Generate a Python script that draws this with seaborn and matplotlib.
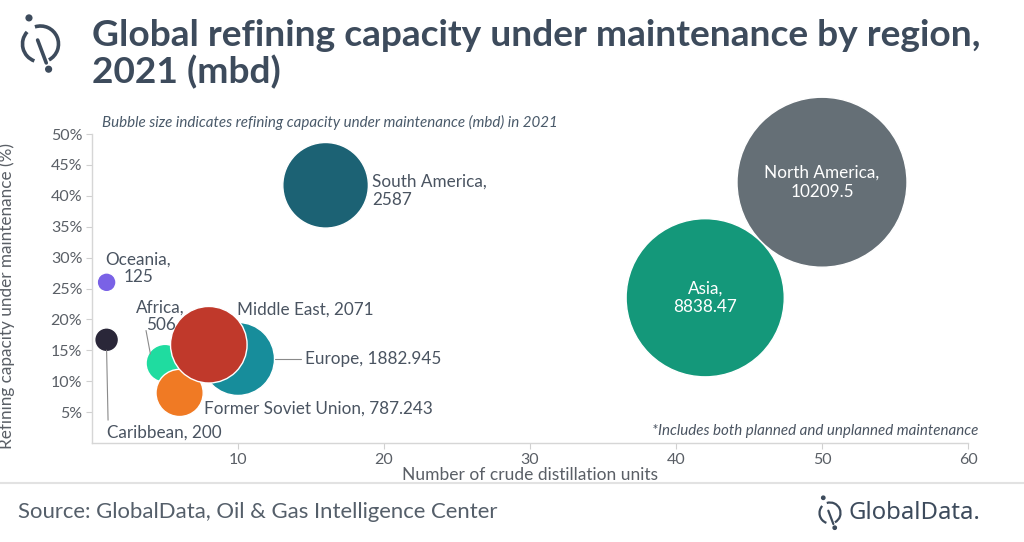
import matplotlib
matplotlib.use("Agg")
import matplotlib.pyplot as plt
from matplotlib.patches import Arc, Circle
import seaborn as sns
import pandas as pd

# ---- data ----
regions = ["Caribbean", "Oceania", "Africa", "Former Soviet Union", "Europe",
           "Middle East", "South America", "Asia", "North America"]
units = [1, 1, 5, 6, 10, 8, 16, 42, 50]
pct = [16.7, 26.0, 12.9, 8.1, 13.6, 15.9, 41.7, 23.5, 42.2]
capacity = [200, 125, 506, 787.243, 1882.945, 2071, 2587, 8838.47, 10209.5]
labels = ["Caribbean, 200", "Oceania,\n125", "Africa,\n506", "Former Soviet Union, 787.243",
          "Europe, 1882.945", "Middle East, 2071", "South America,\n2587",
          "Asia,\n8838.47", "North America,\n10209.5"]
colors = ["#2a2739", "#7a62e6", "#1fdca0", "#f07a24", "#178d9b",
          "#c0392b", "#1c6274", "#14987a", "#656f76"]
xticks = [10, 20, 30, 40, 50, 60]
yticks = [5, 10, 15, 20, 25, 30, 35, 40, 45, 50]

df = pd.DataFrame({"region": regions, "units": units, "pct": pct, "capacity": capacity})

sns.set_theme(style="white")
plt.rcParams["font.family"] = ["Lato", "DejaVu Sans"]

W, H = 1024, 542
fig = plt.figure(figsize=(W / 100, H / 100), dpi=100)
fig.patch.set_facecolor("white")
ax = fig.add_axes([92 / W, 1 - 443 / H, (968 - 92) / W, (443 - 134) / H])

smax = (170 * 0.72) ** 2
sns.scatterplot(data=df, x="units", y="pct", hue="region", palette=dict(zip(regions, colors)),
                size="capacity", sizes=(0, smax), size_norm=(0, max(capacity)),
                edgecolor="white", linewidth=1, alpha=1, legend=False, ax=ax, clip_on=False)

ax.set_xlim(0, 60)
ax.set_ylim(0, 50)
ax.set_xticks(xticks)
ax.set_yticks(yticks)
ax.set_yticklabels([f"{v}%" for v in yticks])
tc = "#5a5f66"
ax.tick_params(axis="both", labelsize=11.5, colors="#d0d0d0", labelcolor=tc, length=4,
               width=0.8, direction="out", left=True, bottom=True, pad=3)
for s in ["top", "right"]:
    ax.spines[s].set_visible(False)
for s in ["left", "bottom"]:
    ax.spines[s].set_color("#d6d6d6")
    ax.spines[s].set_linewidth(1)
ax.set_xlabel("Number of crude distillation units", fontsize=12.5, color=tc, labelpad=0)
ax.set_ylabel("Refining capacity under maintenance (%)", fontsize=12.3, color=tc)
ax.yaxis.set_label_coords(-0.088, 0.475)

lc = "#4a5461"
fs = 12.3
lcol = "#8a8a8a"
# labels
ax.text(19.2, 40.8, labels[6], fontsize=fs, color=lc, ha="left", va="center", linespacing=1.2)
ax.text(units[8], pct[8], labels[8], fontsize=fs, color="white", ha="center", va="center", linespacing=1.2)
ax.text(units[7], pct[7], labels[7], fontsize=fs, color="white", ha="center", va="center", linespacing=1.2)
ax.text(9.93, 21.6, labels[5], fontsize=fs, color=lc, ha="left", va="center")
ax.text(14.6, 13.6, labels[4], fontsize=fs, color=lc, ha="left", va="center")
ax.plot([12.5, 14.3], [13.6, 13.6], color=lcol, lw=0.8)
ax.text(7.7, 5.6, labels[3], fontsize=fs, color=lc, ha="left", va="center")
ax.text(4.7, 20.5, labels[2], fontsize=fs, color=lc, ha="center", va="center", linespacing=1.1)
ax.plot([3.7, 4.0], [18.2, 14.4], color=lcol, lw=0.8)
ax.text(3.18, 28.3, labels[1], fontsize=fs, color=lc, ha="center", va="center", linespacing=1.1)
ax.text(1.03, 1.6, labels[0], fontsize=fs, color=lc, ha="left", va="center")
ax.plot([1.0, 1.1], [15.0, 3.7], color=lcol, lw=0.8)

# subtitle / footnote
fig.text(102 / W, 1 - 122 / H, "Bubble size indicates refining capacity under maintenance (mbd) in 2021",
         fontsize=10.9, style="italic", color="#4a5a6a", ha="left", va="center")
fig.text(978 / W, 1 - 431 / H, "*Includes both planned and unplanned maintenance",
         fontsize=10.9, style="italic", color="#4a5461", ha="right", va="center")

# title
fig.text(92 / W, 1 - 35 / H, "Global refining capacity under maintenance by region,",
         fontsize=26.7, fontweight="bold", color="#3d4b5c", ha="left", va="center")
fig.text(92 / W, 1 - 72 / H, "2021 (mbd)",
         fontsize=26.7, fontweight="bold", color="#3d4b5c", ha="left", va="center")

# source
fig.text(18 / W, 1 - 512 / H, "Source: GlobalData, Oil & Gas Intelligence Center",
         fontsize=15.9, color="#555f6a", ha="left", va="center")

# overlay for decorations (pixel coords)
ov = fig.add_axes([0, 0, 1, 1], zorder=5)
ov.set_xlim(0, W)
ov.set_ylim(H, 0)
ov.axis("off")
ov.patch.set_alpha(0)
ov.plot([0, W], [483, 483], color="#e2e2e2", lw=1.5)

def logo(cx, cy, r, lw, col):
    # y axis inverted: positive angles run clockwise on screen
    ov.add_patch(Arc((cx, cy), 2 * r, 2 * r, theta1=-108, theta2=62, lw=lw, color=col))
    ov.add_patch(Arc((cx, cy), 2 * r, 2 * r, theta1=110, theta2=222, lw=lw, color=col))
    ov.plot([cx - 0.16 * r, cx + 0.32 * r], [cy - 0.22 * r, cy + 1.05 * r], color=col, lw=lw,
            solid_capstyle="round")
    ov.add_patch(Circle((cx - 0.64 * r, cy - 1.45 * r), 0.16 * r, color=col))
    ov.add_patch(Circle((cx + 0.45 * r, cy + 1.4 * r), 0.16 * r, color=col))

logo(40.5, 44, 18, 2.6, "#3d4b5c")
logo(830, 513, 10.5, 1.6, "#3d4b5c")
fig.text(849 / W, 1 - 513 / H, "GlobalData.", fontsize=17.2, color="#3d4b5c", ha="left", va="center",
         family=["Noto Sans", "DejaVu Sans"])

fig.savefig("out.png", dpi=100, facecolor="white")
